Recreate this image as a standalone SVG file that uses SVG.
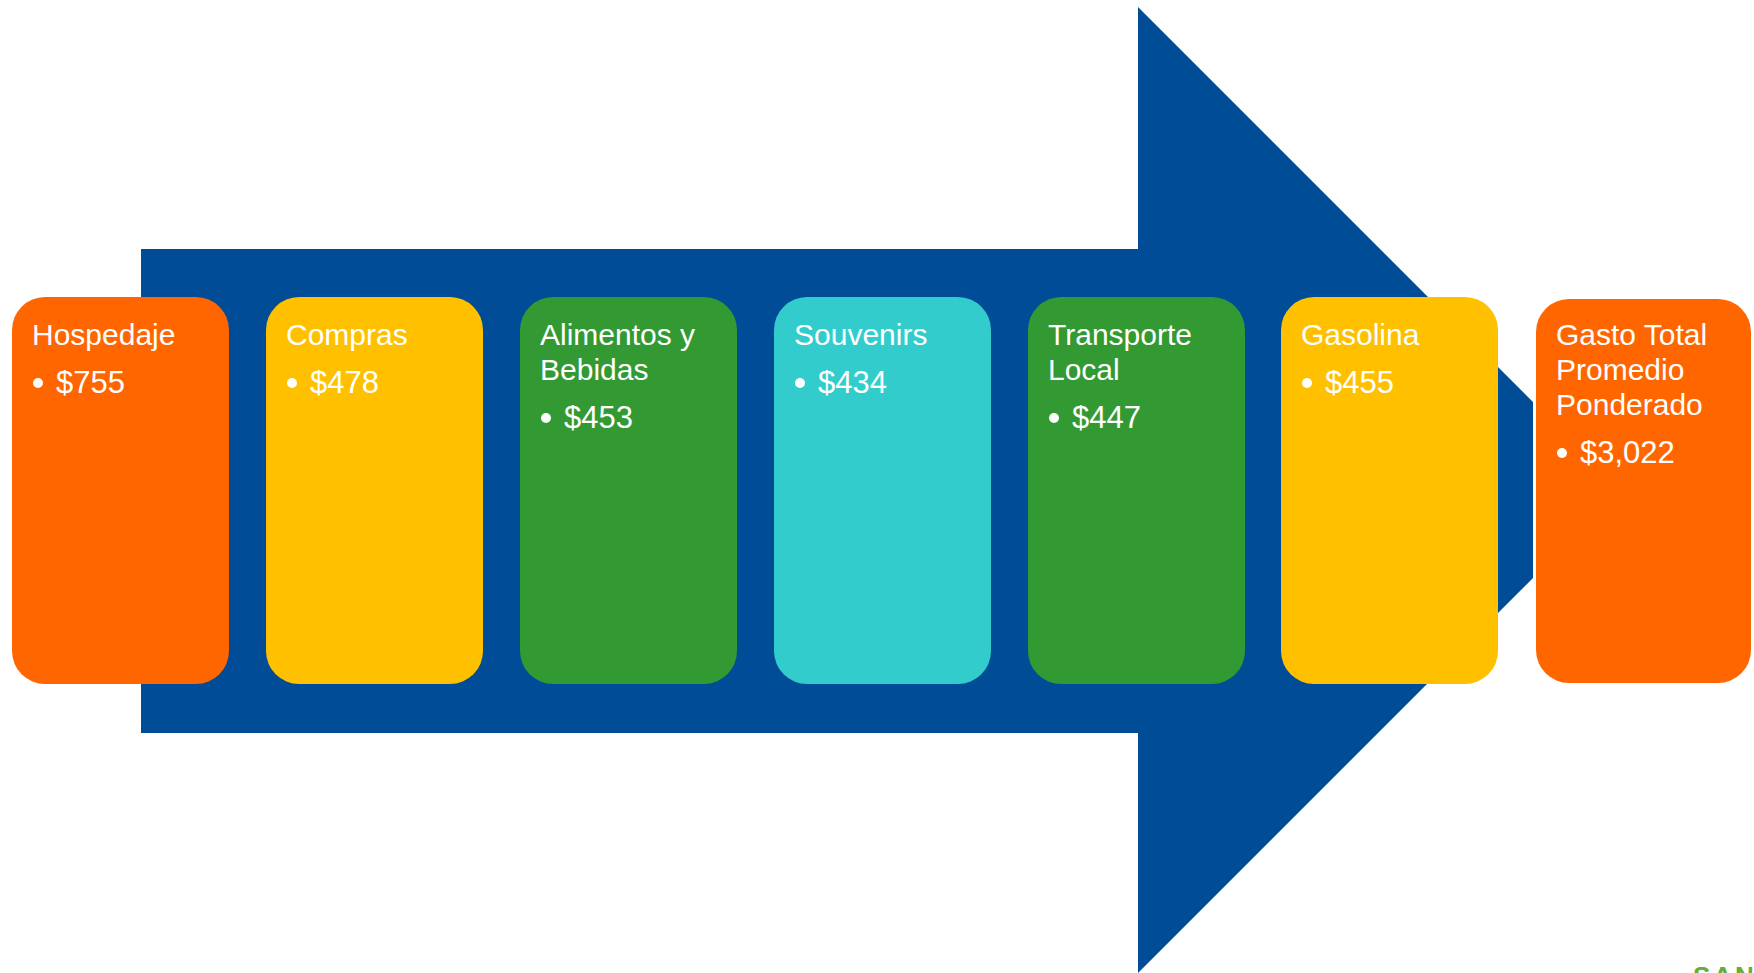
<svg xmlns="http://www.w3.org/2000/svg" width="1754" height="973" viewBox="0 0 1754 973">
<style>
.box{stroke:none}
.t{font-family:"Liberation Sans",Arial,sans-serif;font-size:30px;fill:#FFFFFF}
.v{font-family:"Liberation Sans",Arial,sans-serif;font-size:31px;fill:#FFFFFF}
.mark{font-family:"Liberation Sans",Arial,sans-serif;font-weight:bold;font-size:26px;letter-spacing:3px;fill:#6AAB3A}
</style>
<rect width="1754" height="973" fill="#FFFFFF"/>
<g id="arrow">
<polygon points="141,249 1138,249 1138,7 1533,402 1533,578 1138,973 1138,733 141,733" fill="#004C97"/>
</g>
<g id="connectors"></g>
<g id="hospedaje">
<rect class="box" x="12" y="297" width="217" height="387" rx="33" fill="#FF6600"/>
<text class="t" x="32" y="345">Hospedaje</text>
<circle cx="38" cy="383" r="5" fill="#FFFFFF"/><text class="v" x="56" y="393">$755</text>
</g>
<g id="compras">
<rect class="box" x="266" y="297" width="217" height="387" rx="33" fill="#FFC000"/>
<text class="t" x="286" y="345">Compras</text>
<circle cx="292" cy="383" r="5" fill="#FFFFFF"/><text class="v" x="310" y="393">$478</text>
</g>
<g id="alimentos">
<rect class="box" x="520" y="297" width="217" height="387" rx="33" fill="#339933"/>
<text class="t" x="540" y="345">Alimentos y</text>
<text class="t" x="540" y="380">Bebidas</text>
<circle cx="546" cy="418" r="5" fill="#FFFFFF"/><text class="v" x="564" y="428">$453</text>
</g>
<g id="souvenirs">
<rect class="box" x="774" y="297" width="217" height="387" rx="33" fill="#33CCCC"/>
<text class="t" x="794" y="345">Souvenirs</text>
<circle cx="800" cy="383" r="5" fill="#FFFFFF"/><text class="v" x="818" y="393">$434</text>
</g>
<g id="transporte">
<rect class="box" x="1028" y="297" width="217" height="387" rx="33" fill="#339933"/>
<text class="t" x="1048" y="345">Transporte</text>
<text class="t" x="1048" y="380">Local</text>
<circle cx="1054" cy="418" r="5" fill="#FFFFFF"/><text class="v" x="1072" y="428">$447</text>
</g>
<g id="gasolina">
<rect class="box" x="1281" y="297" width="217" height="387" rx="33" fill="#FFC000"/>
<text class="t" x="1301" y="345">Gasolina</text>
<circle cx="1307" cy="383" r="5" fill="#FFFFFF"/><text class="v" x="1325" y="393">$455</text>
</g>
<g id="total">
<rect class="box" x="1536" y="299" width="215" height="384" rx="33" fill="#FF6600"/>
<text class="t" x="1556" y="345">Gasto Total</text>
<text class="t" x="1556" y="380">Promedio</text>
<text class="t" x="1556" y="415">Ponderado</text>
<circle cx="1562" cy="453" r="5" fill="#FFFFFF"/><text class="v" x="1580" y="463">$3,022</text>
</g>
<text class="mark" x="1693" y="985">SAN</text>
</svg>
